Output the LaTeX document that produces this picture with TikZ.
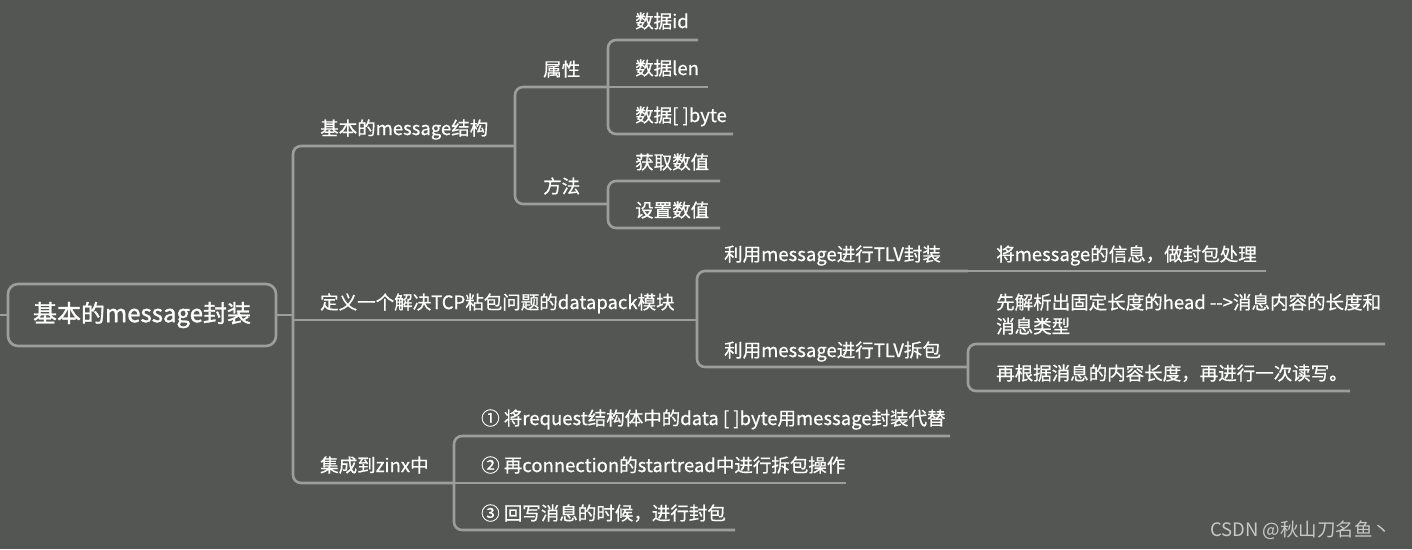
\documentclass[tikz,border=0pt]{standalone}
\usepackage{fontspec}
\setmainfont{Noto Sans CJK SC}
\newfontfamily\medfont{Noto Sans CJK SC}[FakeBold=0.6]
\newfontfamily\rootfont{Noto Sans CJK SC}[FakeBold=1.2]
\definecolor{bg}{HTML}{545653}
\definecolor{ln}{HTML}{9C9E9B}
\definecolor{wm}{HTML}{C8C8C8}
\begin{document}
\begin{tikzpicture}[x=1pt,y=-1pt,
  lbl/.style={anchor=west,inner sep=0pt,text=white,font=\medfont\fontsize{18.5}{24}\selectfont,text height=16.3pt,text depth=2.2pt},
  lblm/.style={anchor=west,inner sep=0pt,text=white,font=\medfont\fontsize{18.5}{24}\selectfont,align=left},
  link/.style={draw=ln,line width=2.6pt,rounded corners=8pt},
 ]
\fill[bg] (0,0) rectangle (1412,549);
\useasboundingbox (0,0) rectangle (1412,549);

% root
\node[draw=ln,line width=2.6pt,rounded corners=10pt,minimum width=268pt,minimum height=62pt,inner sep=0pt,text=white,font=\rootfont\fontsize{24}{28}\selectfont] (root) at (142,315) {基本的message封装};
\coordinate (L0) at (0,315);
\coordinate (J0) at (293,315);
\draw[link] (L0) -- (root.west);
\draw[link] (root.east) -- (J0);

% level 1
\node[lbl] (b1) at (320,128) {基本的message结构};
\coordinate (b1e) at (515,146);
\draw[link] (J0) |- (b1e);
\node[lbl] (b2) at (320,302) {定义一个解决TCP粘包问题的datapack模块};
\coordinate (b2s) at (293,320);
\coordinate (b2e) at (697,320);
\draw[link] (b2s) -- (b2e);
\node[lbl] (b3) at (320,465) {集成到zinx中};
\coordinate (b3e) at (454,483);
\draw[link] (J0) |- (b3e);

% under b1
\node[lbl] (p1) at (543,69) {属性};
\coordinate (p1e) at (608,87);
\draw[link] (b1e) |- (p1e);
\node[lbl] (p2) at (543,186) {方法};
\coordinate (p2e) at (608,204);
\draw[link] (b1e) |- (p2e);

\node[lbl] (q1) at (635,21) {数据id};
\coordinate (q1e) at (698,40);
\draw[link] (p1e) |- (q1e);
\node[lbl] (q2) at (635,68) {数据len};
\coordinate (q2e) at (708,87);
\draw[link] (p1e) -- (q2e);
\node[lbl] (q3) at (635,115) {数据[ ]byte};
\coordinate (q3e) at (733,134);
\draw[link] (p1e) |- (q3e);
\node[lbl] (q4) at (635,162) {获取数值};
\coordinate (q4e) at (720,181);
\draw[link] (p2e) |- (q4e);
\node[lbl] (q5) at (635,210) {设置数值};
\coordinate (q5e) at (720,228);
\draw[link] (p2e) |- (q5e);

% under b2
\node[lbl] (d1) at (724,254) {利用message进行TLV封装};
\coordinate (d1e) at (968,271);
\draw[link] (b2e) |- (d1e);
\node[lbl] (d2) at (724,350) {利用message进行TLV拆包};
\coordinate (d2e) at (968,367);
\draw[link] (b2e) |- (d2e);

\node[lbl] (e1) at (996,254) {将message的信息，做封包处理};
\coordinate (e1e) at (1266,271);
\draw[link] (d1e) -- (e1e);
\node[lblm] (e2) at (996,314) {先解析出固定长度的head -\kern0pt-\kern0pt>消息内容的长度和\\消息类型};
\coordinate (e2e) at (1385,344);
\draw[link] (d2e) |- (e2e);
\node[lbl] (e3) at (996,373) {再根据消息的内容长度，再进行一次读写。};
\coordinate (e3e) at (1350,391);
\draw[link] (d2e) |- (e3e);

% under b3
\node[lbl] (z1) at (481,418) {① 将request结构体中的data [ ]byte用message封装代替};
\coordinate (z1e) at (950,436);
\draw[link] (b3e) |- (z1e);
\node[lbl] (z2) at (481,465) {② 再connection的startread中进行拆包操作};
\coordinate (z2e) at (846,483);
\draw[link] (b3e) -- (z2e);
\node[lbl] (z3) at (481,513) {③ 回写消息的时候，进行封包};
\coordinate (z3e) at (735,530);
\draw[link] (b3e) |- (z3e);

% watermark
\node[anchor=west,inner sep=0pt,text=wm,font=\fontsize{18.5}{22}\selectfont] (wm) at (1210,530) {CSDN @秋山刀名鱼丶};
\end{tikzpicture}
\end{document}
